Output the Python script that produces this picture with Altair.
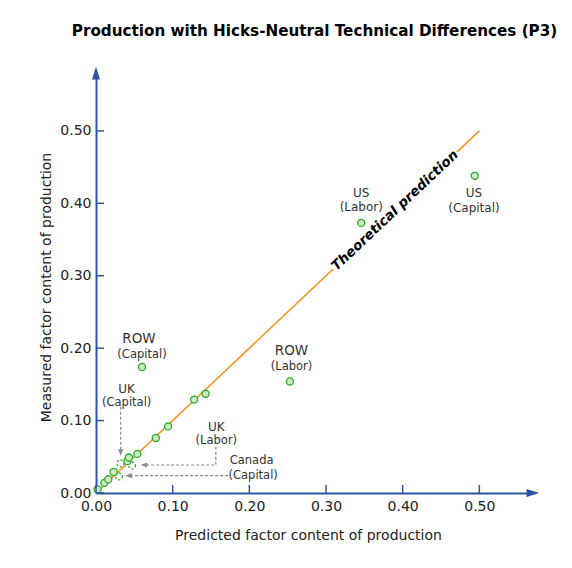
import altair as alt
import pandas as pd

# ---- data ----
pts_x = [0.002, 0.011, 0.016, 0.023, 0.041, 0.043, 0.054, 0.078, 0.094, 0.128, 0.143, 0.060, 0.253, 0.346, 0.494]
pts_y = [0.005, 0.014, 0.019, 0.029, 0.044, 0.049, 0.054, 0.076, 0.092, 0.129, 0.137, 0.174, 0.154, 0.373, 0.438]

dash_names = ["UK (Capital)", "UK (Labor)", "Canada (Capital)"]
dash_x = [0.032, 0.047, 0.030]
dash_y = [0.041, 0.038, 0.023]

theory_x = [0.0, 0.5]
theory_y = [0.0, 0.5]

label_text = ["US", "(Labor)", "US", "(Capital)", "ROW", "(Capital)", "ROW", "(Labor)",
              "UK", "(Capital)", "UK", "(Labor)", "Canada", "(Capital)"]
label_x = [0.346, 0.346, 0.493, 0.493, 0.056, 0.060, 0.255, 0.255,
           0.040, 0.040, 0.157, 0.157, 0.203, 0.205]
label_y = [0.414, 0.395, 0.414, 0.394, 0.213, 0.191, 0.196, 0.1745,
           0.143, 0.124, 0.0916, 0.0718, 0.0442, 0.0235]
label_size = [12, 12, 12, 12, 13.5, 11.5, 13.5, 11.5, 12, 11.5, 12, 11.5, 11.5, 11.5]

# annotation leader lines (data coordinates)
lead_id = ["ukl", "ukl", "ukl", "ukc", "ukc", "can", "can"]
lead_ord = [0, 1, 2, 0, 1, 0, 1]
lead_x = [0.1563, 0.1563, 0.0653, 0.0322, 0.0322, 0.1723, 0.0457]
lead_y = [0.0640, 0.0387, 0.0387, 0.1192, 0.0608, 0.0239, 0.0239]
head_x = [0.0625, 0.0322, 0.0424]
head_y = [0.0387, 0.0560, 0.0239]
head_shape = ["M1,-0.8L-1,0L1,0.8Z", "M-0.8,-1L0,1L0.8,-1Z", "M1,-0.8L-1,0L1,0.8Z"]

tick_vals = [0.0, 0.1, 0.2, 0.3, 0.4, 0.5]
x_max = 0.57
y_max = 0.58

FONT = "DejaVu Sans"
AXIS_C = "#2f54a0"
GREEN = "#2ea52e"
GREEN_FILL = "#c8efc0"
ORANGE = "#f7941e"
TEXT_C = "#222222"

xscale = alt.Scale(domain=[0, x_max], nice=False, zero=False)
yscale = alt.Scale(domain=[0, y_max], nice=False, zero=False)
xaxis = alt.Axis(title="Predicted factor content of production", values=tick_vals, format=".2f",
                 grid=False, ticks=False, tickSize=0, domainColor=AXIS_C, domainWidth=2,
                 labelFont=FONT, labelFontSize=14, labelColor=TEXT_C, labelPadding=6,
                 titleFont=FONT, titleFontSize=14, titleFontWeight="normal", titleColor=TEXT_C,
                 titlePadding=15, titleX=212, titleAlign="center",
                 labelFlush=False, labelOverlap=False)
yaxis = alt.Axis(title="Measured factor content of production", values=tick_vals, format=".2f",
                 grid=False, ticks=False, tickSize=0, domainColor=AXIS_C, domainWidth=2,
                 labelFont=FONT, labelFontSize=14, labelColor=TEXT_C, labelPadding=5,
                 titleFont=FONT, titleFontSize=14, titleFontWeight="normal", titleColor=TEXT_C,
                 titlePadding=6, titleY=214, titleAlign="center",
                 labelFlush=False, labelOverlap=False)


def X(f):
    return alt.X(f, type="quantitative", scale=xscale, axis=xaxis)


def Y(f):
    return alt.Y(f, type="quantitative", scale=yscale, axis=yaxis)


theory = pd.DataFrame({"x": theory_x, "y": theory_y})
pts = pd.DataFrame({"x": pts_x, "y": pts_y})
dpts = pd.DataFrame({"name": dash_names, "x": dash_x, "y": dash_y})
labels = pd.DataFrame({"t": label_text, "x": label_x, "y": label_y, "s": label_size})
leads = pd.DataFrame({"id": lead_id, "o": lead_ord, "x": lead_x, "y": lead_y})
heads = pd.DataFrame({"x": head_x, "y": head_y, "shape": head_shape})
ticks = pd.DataFrame({"v": tick_vals})

W, H = 437, 420

line = alt.Chart(theory).mark_line(color=ORANGE, strokeWidth=1.6).encode(x=X("x"), y=Y("y"))

mask = alt.Chart(pd.DataFrame({"x": [0.309], "y": [0.309], "x2": [0.471], "y2": [0.471]})).mark_rule(
    color="white", strokeWidth=16).encode(x=X("x"), y=Y("y"), x2="x2", y2="y2")

ttext = alt.Chart(pd.DataFrame({"x": [0.39], "y": [0.39], "t": ["Theoretical prediction"]})).mark_text(
    font=FONT, fontSize=13.5, fontWeight="bold", fontStyle="italic", angle=316.6,
    align="center", baseline="middle", color="#000000").encode(x=X("x"), y=Y("y"), text="t")

leadl = alt.Chart(leads).mark_line(color="#888888", strokeWidth=1.2, strokeDash=[3, 2]).encode(
    x=X("x"), y=Y("y"), detail="id", order="o")

headm = alt.Chart(heads).mark_point(filled=True, color="#888888", size=42, opacity=1).encode(
    x=X("x"), y=Y("y"), shape=alt.Shape("shape:N", scale=None))

dashed = alt.Chart(dpts).mark_point(shape="circle", size=48, color=GREEN, strokeWidth=1.3,
                                     strokeDash=[2, 2], fill="white", fillOpacity=0.0, opacity=1).encode(
    x=X("x"), y=Y("y"))

solid = alt.Chart(pts).mark_point(shape="circle", size=50, color=GREEN, strokeWidth=1.3,
                                   fill=GREEN_FILL, fillOpacity=1, opacity=1).encode(x=X("x"), y=Y("y"))

lab = alt.Chart(labels).mark_text(font=FONT, color="#333333", align="center", baseline="middle").encode(
    x=X("x"), y=Y("y"), text="t", size=alt.Size("s:Q", scale=None, legend=None))

xt = alt.Chart(ticks).mark_rule(color=AXIS_C, strokeWidth=1.5).encode(
    x=X("v"), y=alt.value(H), y2=alt.value(H - 8))
yt = alt.Chart(ticks).mark_rule(color=AXIS_C, strokeWidth=1.5).encode(
    y=Y("v"), x=alt.value(0), x2=alt.value(8))

xarrow = alt.Chart(pd.DataFrame({"x": [x_max], "y": [0.0]})).mark_point(
    filled=True, color=AXIS_C, opacity=1, size=169, shape="M-1,-0.62L1,0L-1,0.62Z").encode(x=X("x"), y=Y("y"))
yarrow = alt.Chart(pd.DataFrame({"x": [0.0], "y": [y_max]})).mark_point(
    filled=True, color=AXIS_C, opacity=1, size=169, shape="M-0.62,1L0,-1L0.62,1Z").encode(x=X("x"), y=Y("y"))

chart = alt.layer(line, mask, ttext, leadl, headm, dashed, solid, lab, xt, yt, xarrow, yarrow).properties(
    width=W, height=H,
    title=alt.TitleParams("Production with Hicks-Neutral Technical Differences (P3)", font=FONT,
                          fontSize=15.2, fontWeight="bold", color="#000000", anchor="middle", offset=27),
    autosize=alt.AutoSizeParams(type="none"),
    padding={"left": 88, "top": 65, "right": 31, "bottom": 67},
).configure_view(stroke=None)

chart.save("out.html", embed_options={"renderer": "svg", "actions": False})
